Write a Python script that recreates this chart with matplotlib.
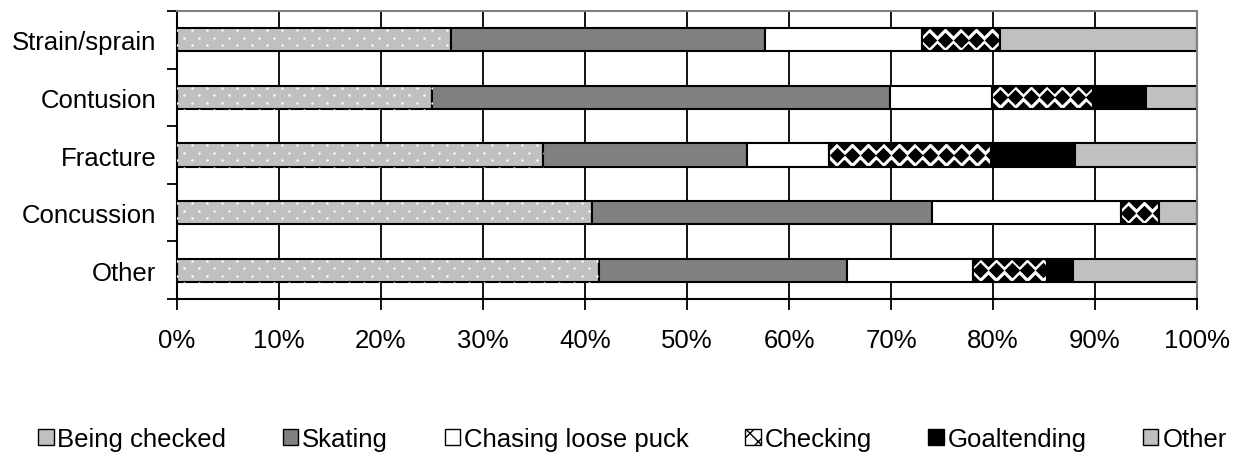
import numpy as np
import matplotlib
matplotlib.use("Agg")
from matplotlib import pyplot as plt
from matplotlib.patches import Patch

plt.rcParams['font.family'] = ['Liberation Sans', 'DejaVu Sans']

injuries = ["Strain/sprain", "Contusion", "Fracture", "Concussion", "Other"]
mechanisms = ["Being checked", "Skating", "Chasing loose puck", "Checking", "Goaltending", "Other"]

# percent of injuries per mechanism (one list per mechanism, in injury order)
being_checked = [26.9, 25.0, 35.9, 40.7, 41.4]
skating = [30.7, 44.9, 20.0, 33.3, 24.3]
chasing = [15.4, 10.0, 8.0, 18.5, 12.3]
checking = [7.7, 9.9, 15.9, 3.8, 7.3]
goaltending = [0.0, 5.2, 8.2, 0.0, 2.5]
other = [19.3, 5.0, 12.0, 3.7, 12.2]

series = [being_checked, skating, chasing, checking, goaltending, other]
colors = ['#c0c0c0', '#808080', 'white', 'white', 'black', '#c0c0c0']

fig = plt.figure(figsize=(12.4, 4.64), dpi=100)
ax = fig.add_axes([177/1240, 1-300/464, 1020/1240, 288/464])

ypos = np.arange(len(injuries))
bar_h = 0.4
left = np.zeros(len(injuries))


def fill_pattern(ax, rects, xstep, yoffs, marker, size, color):
    # texture markers clipped to each bar
    for r in rects:
        x0, w = r.get_x(), r.get_width()
        if w <= 0:
            continue
        yc = r.get_y() + r.get_height() / 2
        for i, dy in enumerate(yoffs):
            shift = 0 if i % 2 == 0 else xstep / 2
            xs = np.arange(x0 - xstep + shift, x0 + w + xstep, xstep)
            sc = ax.scatter(xs, np.full_like(xs, yc + dy), marker=marker, s=size,
                            color=color, linewidths=0, zorder=3)
            sc.set_clip_path(r)


for k, vals in enumerate(series):
    vals = np.array(vals)
    rects = ax.barh(ypos, vals, left=left, height=bar_h, color=colors[k],
                    edgecolor='black', linewidth=1.5, zorder=2)
    if k == 0:
        fill_pattern(ax, rects, 1.47, [-0.165, -0.035, 0.095, 0.225], 'o', 3, 'white')
    if k == 3:
        fill_pattern(ax, rects, 1.53, [-0.2, 0.0, 0.2], 'D', 62, 'black')
    left += vals

ax.set_xlim(0, 100)
ax.set_ylim(len(injuries) - 0.5, -0.5)
ax.set_xticks(np.arange(0, 101, 10))
ax.set_xticklabels([f"{v}%" for v in range(0, 101, 10)], fontsize=18.5)
ax.set_yticks(ypos)
ax.set_yticklabels(injuries, fontsize=18.5)
ax.set_yticks(np.arange(-0.5, len(injuries)), minor=True)
ax.tick_params(axis='y', which='major', length=0, pad=15)
ax.tick_params(axis='y', which='minor', length=7, width=1.3, direction='out')
ax.tick_params(axis='x', which='major', length=8, width=1.3, direction='out', pad=13)

ax.grid(axis='x', color='black', linewidth=1.3)
ax.set_axisbelow(True)
for s in ['left', 'bottom']:
    ax.spines[s].set_color('black')
    ax.spines[s].set_linewidth(1.5)
for s in ['top', 'right']:
    ax.spines[s].set_color('#808080')
    ax.spines[s].set_linewidth(1.5)

handles = [Patch(facecolor=colors[0], edgecolor='black'),
           Patch(facecolor=colors[1], edgecolor='black'),
           Patch(facecolor=colors[2], edgecolor='black'),
           Patch(facecolor='white', edgecolor='black', hatch='xx'),
           Patch(facecolor=colors[4], edgecolor='black'),
           Patch(facecolor=colors[5], edgecolor='black')]
fig.legend(handles, mechanisms, loc='center', bbox_to_anchor=(0.51, 1 - 440/464),
           ncol=6, frameon=False, fontsize=18.5, handlelength=0.6, handleheight=0.6,
           handletextpad=0.15, columnspacing=2.2, borderaxespad=0)

fig.savefig("out.png", dpi=100)
